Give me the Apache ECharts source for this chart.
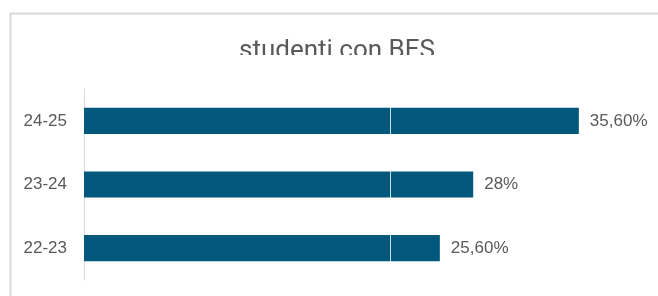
<!DOCTYPE html>
<html><head><meta charset="utf-8">
<script src="https://cdn.jsdelivr.net/npm/echarts@6/dist/echarts.min.js"></script>
<style>html,body{margin:0;padding:0;background:#fff}#c{width:658px;height:296px}</style>
</head><body><div id="c"></div>
<script>
const categories = ['22-23', '23-24', '24-25'];
const values = [25.6, 28, 35.6];
const valueLabels = ['25,60%', '28%', '35,60%'];
const titleText = 'studenti con BES';
const refLineValue = 22;

const chart = echarts.init(document.getElementById('c'), null, {renderer: 'canvas'});
chart.setOption({
  animation: false,
  backgroundColor: '#fff',
  title: {
    text: titleText, left: 234, top: 33,
    textStyle: {fontFamily: 'Roboto', fontWeight: 'normal', fontSize: 26, color: '#595959'}
  },
  graphic: [
    {type: 'rect', z: 100, shape: {x: 150, y: 55, width: 400, height: 25}, style: {fill: '#fff'}},
    {type: 'rect', z: 101, shape: {x: 10.5, y: 13.5, width: 700, height: 400}, style: {fill: 'none', stroke: '#d9d9d9', lineWidth: 2}}
  ],
  grid: {left: 84, right: 18, top: 89, bottom: 16, containLabel: false},
  xAxis: {type: 'value', min: 0, max: 40, show: false, splitLine: {show: false}},
  yAxis: {
    type: 'category', data: categories,
    axisLine: {show: true, lineStyle: {color: '#d9d9d9', width: 1}},
    axisTick: {show: false},
    axisLabel: {margin: 17, fontFamily: 'Liberation Sans', fontSize: 17, color: '#595959'}
  },
  series: [{
    type: 'bar', data: values, barWidth: '41%',
    itemStyle: {color: '#02587c'},
    label: {
      show: true, position: 'right', distance: 11,
      fontFamily: 'Liberation Sans', fontSize: 17, color: '#595959',
      formatter: p => valueLabels[p.dataIndex]
    },
    markLine: {
      silent: true, symbol: 'none', label: {show: false},
      lineStyle: {color: '#ffffff', type: 'solid', width: 1, opacity: 0.8},
      data: [{xAxis: refLineValue}]
    }
  }]
});
</script></body></html>
